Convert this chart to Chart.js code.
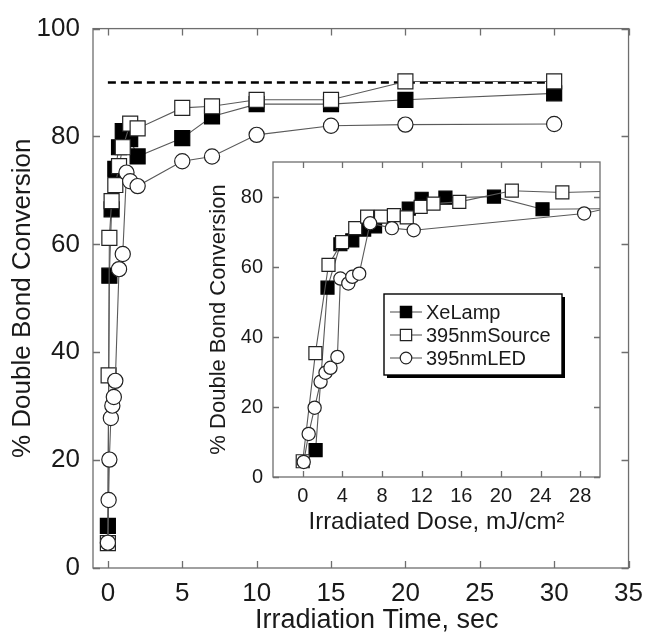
<!DOCTYPE html>
<html><head><meta charset="utf-8">
<script src="https://cdn.jsdelivr.net/npm/chart.js@4.4.0/dist/chart.umd.min.js"></script>
<style>
html,body{margin:0;padding:0;background:#fff;}
#wrap{position:relative;width:653px;height:638px;background:#fff;}
#main{position:absolute;left:0;top:0;}
#inset{position:absolute;left:195px;top:140px;}
</style></head><body>
<div id="wrap">
<canvas id="main" width="653" height="638"></canvas>
<canvas id="inset" width="420" height="400"></canvas>
</div>
<script>
// ---------- data: main plot (conversion vs irradiation time) ----------
const mainXTicks = [0, 5, 10, 15, 20, 25, 30, 35];
const mainYTicks = [0, 20, 40, 60, 80, 100];
const xeTime  = [0, 0.1, 0.25, 0.5, 0.75, 1, 1.5, 2, 5, 7, 10, 15, 20, 30];
const xeConv  = [7.8, 54.2, 66.5, 74, 78, 81, 79.5, 76.3, 79.7, 83.7, 86, 86, 86.8, 88];
const srcTime = [0, 0.05, 0.1, 0.25, 0.5, 0.75, 1, 1.5, 2, 5, 7, 10, 15, 20, 30];
const srcConv = [4.6, 35.7, 61.2, 68, 71, 74.5, 78, 82.4, 81.5, 85.3, 85.6, 86.8, 86.8, 90.2, 90.2];
const ledTime = [0, 0.05, 0.1, 0.2, 0.3, 0.4, 0.5, 0.75, 1, 1.25, 1.5, 2, 5, 7, 10, 15, 20, 30];
const ledConv = [4.7, 12.6, 20.1, 27.8, 30.1, 31.7, 34.7, 55.4, 58.2, 73.3, 71.7, 70.8, 75.4, 76.3, 80.3, 82, 82.2, 82.3];
const limitTime = [0, 30];
const limitConv = [90, 90];
const mainXTitle = 'Irradiation Time, sec';

// ---------- data: inset (conversion vs irradiated dose) ----------
const insetXTicks = [0, 4, 8, 12, 16, 20, 24, 28];
const insetYTicks = [0, 20, 40, 60, 80];
const xeDose  = [1.3, 2.5, 3.8, 5.0, 6.2, 7.3, 10.7, 12.0, 14.4, 19.3, 24.2, 32];
const xeConvI = [7.7, 54.1, 66.5, 67.6, 70.7, 71.6, 76.7, 79.5, 79.8, 80.1, 76.5, 76.7];
const srcDose  = [0, 1.28, 2.6, 3.97, 5.3, 6.5, 7.9, 9.2, 10.5, 11.9, 13.2, 15.8, 21.1, 26.2, 32];
const srcConvI = [4.5, 35.4, 60.6, 67.1, 71.1, 74.4, 74.4, 74.8, 74.2, 77.2, 78.1, 78.6, 81.8, 81.3, 81.7];
const ledDose  = [0.1, 0.6, 1.2, 1.8, 2.3, 2.8, 3.5, 3.8, 4.6, 5.0, 5.7, 6.8, 9.0, 11.2, 28.4, 32];
const ledConvI = [4.3, 12.3, 19.8, 27.2, 29.8, 31.2, 34.3, 56.7, 55.3, 57.2, 58.1, 72.5, 71.1, 70.5, 75.3, 77.5];

const seriesLabels = ['XeLamp', '395nmSource', '395nmLED'];

const FONT = "'Liberation Sans', Arial, Helvetica, sans-serif";
const TXT = '#1a1a1a';
const LINE = '#5a5a5a';

function pts(xs, ys) { return xs.map((x, i) => ({ x: x, y: ys[i] })); }

function seriesStyle(kind, big) {
  const sq = big ? 10.6 : 9.2, ci = big ? 7.6 : 6.6;
  if (kind === 0) return { pointStyle: 'rect', pointRadius: sq, pointBackgroundColor: '#000', pointBorderColor: '#000' };
  if (kind === 1) return { pointStyle: 'rect', pointRadius: sq, pointBackgroundColor: '#fff', pointBorderColor: '#222' };
  return { pointStyle: 'circle', pointRadius: ci, pointBackgroundColor: '#fff', pointBorderColor: '#222' };
}

function makeDataset(label, xs, ys, kind, big, order) {
  return Object.assign({
    label: label, data: pts(xs, ys), showLine: true, borderColor: LINE, borderWidth: 1.1,
    pointBorderWidth: 1.2, pointHoverRadius: 0, order: order
  }, seriesStyle(kind, big));
}

// frame + inward tick marks on all four sides, from the chart's own scales
function framePlugin(tickLen, fillWhite) {
  return {
    id: 'frameTicks',
    beforeDatasetsDraw(chart) {
      const { ctx, chartArea: a, scales } = chart;
      ctx.save();
      if (fillWhite) { ctx.fillStyle = '#fff'; ctx.fillRect(a.left, a.top, a.right - a.left, a.bottom - a.top); }
      ctx.strokeStyle = '#6e6e6e';
      ctx.lineWidth = 1.3;
      ctx.strokeRect(a.left, a.top, a.right - a.left, a.bottom - a.top);
      ctx.beginPath();
      scales.x.ticks.forEach(t => {
        const px = Math.round(scales.x.getPixelForValue(t.value)) + 0.5;
        ctx.moveTo(px, a.bottom); ctx.lineTo(px, a.bottom - tickLen);
        ctx.moveTo(px, a.top); ctx.lineTo(px, a.top + tickLen);
      });
      scales.y.ticks.forEach(t => {
        const py = Math.round(scales.y.getPixelForValue(t.value)) + 0.5;
        ctx.moveTo(a.left, py); ctx.lineTo(a.left + tickLen, py);
        ctx.moveTo(a.right, py); ctx.lineTo(a.right - tickLen, py);
      });
      ctx.stroke();
      ctx.restore();
    }
  };
}

// main x-axis title, placed a little right of the axis centre as in the original
const mainTitlePlugin = {
  id: 'mainXTitle',
  afterDraw(chart) {
    const { ctx, scales } = chart;
    const s = scales.x;
    ctx.save();
    ctx.fillStyle = TXT;
    ctx.font = '27px ' + FONT;
    ctx.textAlign = 'center';
    ctx.textBaseline = 'middle';
    ctx.fillText(mainXTitle, (s.left + s.right) / 2 + 16, s.bottom - 17);
    ctx.restore();
  }
};

function axis(min, max, tickVals, size, titleSize, fitKey, fitVal, pad, title, titlePad) {
  return {
    type: 'linear', min: min, max: max,
    afterBuildTicks: s => { s.ticks = tickVals.map(v => ({ value: v })); },
    afterFit: s => { s[fitKey] = fitVal; },
    grid: { display: false, drawTicks: false },
    border: { display: false },
    ticks: { font: { family: FONT, size: size }, color: TXT, padding: pad, maxRotation: 0, autoSkip: false },
    title: { display: !!title, text: title, color: TXT, font: { family: FONT, size: titleSize, lineHeight: 1.2 }, padding: titlePad }
  };
}

// ---------- main chart ----------
new Chart(document.getElementById('main'), {
  type: 'scatter',
  data: {
    datasets: [
      makeDataset(seriesLabels[0], xeTime, xeConv, 0, true, 3),
      makeDataset(seriesLabels[1], srcTime, srcConv, 1, true, 2),
      makeDataset(seriesLabels[2], ledTime, ledConv, 2, true, 1),
      { label: 'limit', data: pts(limitTime, limitConv), showLine: true, borderColor: '#000', borderWidth: 2.6,
        borderDash: [8, 5], pointRadius: 0, order: 4 }
    ]
  },
  options: {
    responsive: false, animation: false, events: [],
    layout: { padding: { top: 27, right: 16, left: 0, bottom: 0 } },
    plugins: { legend: { display: false }, tooltip: { enabled: false } },
    scales: {
      x: axis(-1, 35, mainXTicks, 26, 27, 'height', 70, 10, '', { top: 0, bottom: 1 }),
      y: axis(0, 100, mainYTicks, 26, 26, 'width', 93, 13, '% Double Bond Conversion', { top: 7, bottom: 0 })
    }
  },
  plugins: [framePlugin(7, false), mainTitlePlugin]
});

// ---------- inset chart ----------
const legendPlugin = {
  id: 'boxLegend',
  afterDatasetsDraw(chart) {
    const ctx = chart.ctx;
    const L = 189, T = 154, W = 178, H = 81;
    ctx.save();
    ctx.fillStyle = '#000';
    ctx.fillRect(L + 3, T + 3, W, H);
    ctx.fillStyle = '#fff';
    ctx.fillRect(L, T, W, H);
    ctx.strokeStyle = '#000';
    ctx.lineWidth = 1.4;
    ctx.strokeRect(L, T, W, H);
    const rows = [T + 18, T + 41, T + 64];
    chart.data.datasets.slice(0, 3).forEach((ds, i) => {
      const y = rows[i];
      ctx.strokeStyle = LINE; ctx.lineWidth = 1.1;
      ctx.beginPath(); ctx.moveTo(L + 6, y); ctx.lineTo(L + 38, y); ctx.stroke();
      ctx.fillStyle = ds.pointBackgroundColor; ctx.strokeStyle = ds.pointBorderColor; ctx.lineWidth = 1.2;
      Chart.helpers.drawPoint(ctx, { pointStyle: ds.pointStyle, radius: ds.pointStyle === 'rect' ? 8 : 5.8, rotation: 0, borderWidth: 1.2 }, L + 22, y);
      ctx.fillStyle = TXT;
      ctx.font = '20px ' + FONT;
      ctx.textBaseline = 'middle';
      ctx.textAlign = 'left';
      ctx.fillText(ds.label, L + 42, y + 1);
    });
    ctx.restore();
  }
};

new Chart(document.getElementById('inset'), {
  type: 'scatter',
  data: {
    datasets: [
      makeDataset(seriesLabels[0], xeDose, xeConvI, 0, false, 3),
      makeDataset(seriesLabels[1], srcDose, srcConvI, 1, false, 2),
      makeDataset(seriesLabels[2], ledDose, ledConvI, 2, false, 1)
    ]
  },
  options: {
    responsive: false, animation: false, events: [],
    layout: { padding: { top: 15, right: 15, left: 0, bottom: 0 } },
    plugins: { legend: { display: false }, tooltip: { enabled: false } },
    scales: {
      x: axis(-3, 30, insetXTicks, 20, 24, 'height', 63, 7, 'Irradiated Dose, mJ/cm²', { top: 0, bottom: 3 }),
      y: axis(0, 90, insetYTicks, 20, 22, 'width', 78, 10, '% Double Bond Conversion', { top: 11, bottom: 0 })
    }
  },
  plugins: [framePlugin(6, true), legendPlugin]
});
</script>
</body></html>
